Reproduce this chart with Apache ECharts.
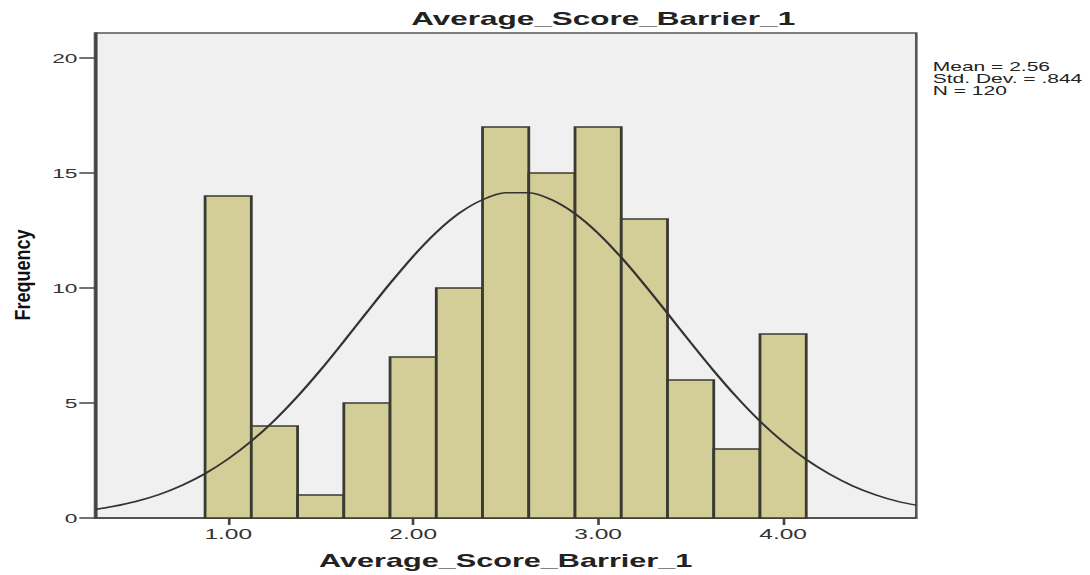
<!DOCTYPE html>
<html lang="en">
  <head>
    <meta charset="UTF-8" />
    <title>Average_Score_Barrier_1</title>
    <script src="https://cdn.jsdelivr.net/npm/echarts@6.0.0/dist/echarts.min.js"></script>
    <style>
      html, body {
        margin: 0;
        padding: 0;
        background: #fff;
        overflow: hidden;
      }
      /* the original picture is stretched sideways, so draw narrow and stretch */
      #chart {
        width: 623px;
        height: 575px;
        transform: scaleX(1.75);
        transform-origin: 0 0;
      }
    </style>
  </head>
  <body>
    <div id="chart"></div>

    <script>
      // histogram bins (centre of each bin) and counts
      var binCenters = [1.0, 1.25, 1.5, 1.75, 2.0, 2.25, 2.5, 2.75, 3.0, 3.25, 3.5, 3.75, 4.0];
      var counts = [14, 4, 1, 5, 7, 10, 17, 15, 17, 13, 6, 3, 8];
      var binWidth = 0.25;

      // normal curve
      var curveX = [0.28, 0.375, 0.5, 0.625, 0.75, 0.875, 1.0, 1.125, 1.25, 1.375, 1.5, 1.625, 1.75, 1.875,
        2.0, 2.125, 2.25, 2.375, 2.5, 2.625, 2.75, 2.875, 3.0, 3.125, 3.25, 3.375, 3.5, 3.625,
        3.75, 3.875, 4.0, 4.125, 4.25, 4.375, 4.5, 4.625, 4.72];
      var curveY = [0.37, 0.5, 0.72, 1.02, 1.42, 1.93, 2.57, 3.34, 4.25, 5.29, 6.44, 7.68, 8.95, 10.2,
        11.38, 12.42, 13.26, 13.84, 14.14, 14.14, 13.83, 13.23, 12.38, 11.33, 10.15, 8.9, 7.63, 6.4,
        5.25, 4.21, 3.31, 2.54, 1.91, 1.4, 1.01, 0.71, 0.56];

      var xTicks = [1, 2, 3, 4];
      var yTicks = [0, 5, 10, 15, 20];
      var stats = ['Mean = 2.56', 'Std. Dev. = .844', 'N = 120'];

      var FONT = 'Liberation Sans, Arial, sans-serif';

      var chart = echarts.init(document.getElementById('chart'), null, { renderer: 'svg' });

      var option = {
        animation: false,
        backgroundColor: '#ffffff',
        title: [
          {
            text: 'Average_Score_Barrier_1',
            left: 230,
            top: 5,
            textStyle: { fontFamily: FONT, fontSize: 18, fontWeight: 'bold', color: '#222' }
          },
          {
            text: stats.join('\n'),
            left: 528,
            top: 56,
            textStyle: { fontFamily: FONT, fontSize: 12, fontWeight: 'normal', color: '#222', lineHeight: 12 }
          }
        ],
        // y axis title, squeezed back so it stays narrow after the stretch
        graphic: [
          {
            type: 'text',
            x: 12.6,
            y: 275,
            rotation: Math.PI / 2,
            scaleY: 0.68,
            style: {
              text: 'Frequency',
              font: 'bold 18px Liberation Sans, Arial, sans-serif',
              fill: '#111',
              textAlign: 'center',
              textVerticalAlign: 'middle'
            }
          }
        ],
        grid: {
          left: 54.3,
          right: 99.4,
          top: 33,
          bottom: 57,
          show: true,
          backgroundColor: '#f0f0f0',
          borderColor: '#555',
          borderWidth: 1.5
        },
        xAxis: {
          type: 'value',
          min: 0.28,
          max: 4.72,
          name: 'Average_Score_Barrier_1',
          nameLocation: 'middle',
          nameGap: 34,
          nameTextStyle: { fontFamily: FONT, fontSize: 17.5, fontWeight: 'bold', color: '#222' },
          splitLine: { show: false },
          axisLine: { show: true, onZero: false, lineStyle: { color: '#444', width: 1.5 } },
          axisTick: { show: true, customValues: xTicks, length: 7, lineStyle: { color: '#444', width: 1.5 } },
          axisLabel: {
            customValues: xTicks,
            margin: 9,
            fontFamily: FONT,
            fontSize: 14,
            color: '#333',
            formatter: function (v) { return v.toFixed(2); }
          }
        },
        yAxis: {
          type: 'value',
          min: 0,
          max: 21.09,
          splitLine: { show: false },
          axisLine: { show: true, lineStyle: { color: '#444', width: 1.5 } },
          axisTick: { show: true, customValues: yTicks, length: 9, lineStyle: { color: '#444', width: 1.5 } },
          axisLabel: {
            customValues: yTicks,
            margin: 10,
            fontFamily: FONT,
            fontSize: 13,
            color: '#333'
          }
        },
        series: [
          {
            type: 'custom',
            name: 'Frequency',
            data: binCenters.map(function (c, i) { return [c, counts[i]]; }),
            encode: { x: 0, y: 1 },
            renderItem: function (params, api) {
              var x = api.value(0);
              var y = api.value(1);
              var p0 = api.coord([x - binWidth / 2, y]);
              var p1 = api.coord([x + binWidth / 2, 0]);
              return {
                type: 'rect',
                shape: { x: p0[0], y: p0[1], width: p1[0] - p0[0], height: p1[1] - p0[1] },
                style: { fill: '#d3ce97', stroke: '#3a3a30', lineWidth: 1.6 }
              };
            },
            z: 2
          },
          {
            type: 'line',
            name: 'Normal',
            data: curveX.map(function (x, i) { return [x, curveY[i]]; }),
            smooth: 0.3,
            showSymbol: false,
            symbol: 'none',
            lineStyle: { color: '#333', width: 1.5 },
            z: 3
          }
        ]
      };

      chart.setOption(option);
    </script>
  </body>
</html>
